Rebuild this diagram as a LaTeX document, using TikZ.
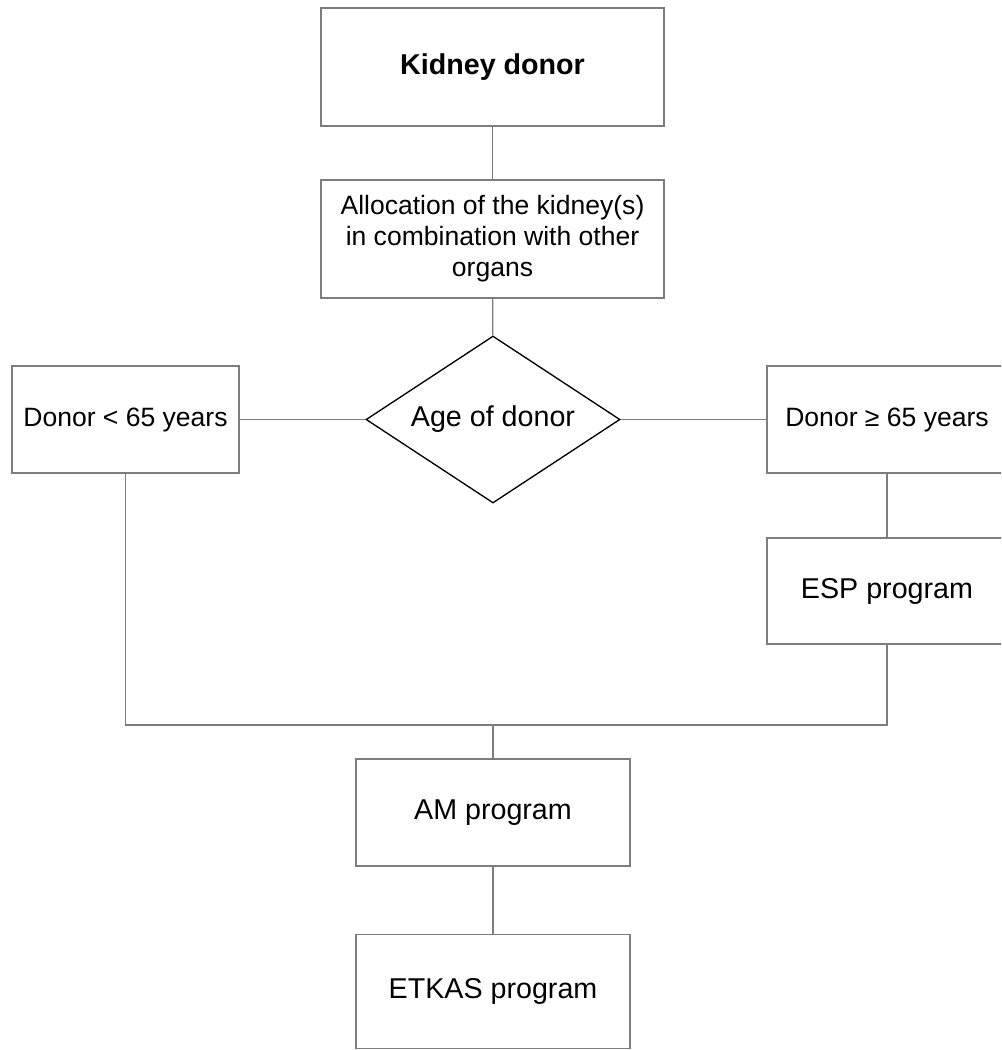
\documentclass[tikz,border=0pt]{standalone}
\usepackage{fontspec}
\setmainfont{Liberation Sans}
\usetikzlibrary{shapes.geometric}
\definecolor{linegray}{RGB}{125,125,125}
\tikzset{
  box/.style={draw=linegray, line width=1pt, rectangle, inner sep=0pt, align=center,
              font=\fontsize{21.5}{25}\selectfont, text=black},
  smallbox/.style={box, font=\fontsize{19.9}{23.25}\selectfont},
  decision/.style={draw=black, line width=1pt, diamond, inner sep=0pt, aspect=1.52,
              font=\fontsize{21.5}{25}\selectfont, text=black},
  conn/.style={draw=linegray, line width=1pt}
}
\begin{document}
\begin{tikzpicture}[x=0.75pt, y=-0.75pt]
\useasboundingbox (0,0) rectangle (1001,1050);
\clip (0,0) rectangle (1001,1050);
\fill[white] (0,0) rectangle (1001,1050);

\node[box, minimum width=257.25pt, minimum height=88.5pt, font=\bfseries\fontsize{21.5}{25}\selectfont] (kd) at (492.5,67) {Kidney donor};
\node[smallbox, minimum width=257.25pt, minimum height=88.5pt] (alloc) at (492.5,239)
  {Allocation of the kidney(s)\\ in combination with other\\ organs};
\node[decision, minimum width=190.5pt, minimum height=125.25pt] (age) at (493,419.5) {Age of donor};
\node[smallbox, minimum width=170.25pt, minimum height=80.25pt] (young) at (125.5,419.5) {Donor < 65 years};
\node[smallbox, minimum width=180pt, minimum height=80.25pt] (old) at (887,419.5) {Donor ≥ 65 years};
\node[box, minimum width=180pt, minimum height=79.5pt] (esp) at (887,591) {ESP program};
\node[box, minimum width=205.5pt, minimum height=80.25pt] (am) at (493,812.5) {AM program};
\node[box, minimum width=205.5pt, minimum height=85.5pt] (etkas) at (493,991.25) {ETKAS program};

\coordinate (jc) at (493,725);
\coordinate (jl) at (young.south |- jc);
\coordinate (jr) at (esp.south |- jc);

\draw[conn] (kd) -- (alloc);
\draw[conn] (alloc) -- (age);
\draw[conn] (age) -- (young);
\draw[conn] (age) -- (old);
\draw[conn] (old) -- (esp);
\draw[conn] (young.south) -- (jl) -- (jr) -- (esp.south);
\draw[conn] (jc) -- (am);
\draw[conn] (am) -- (etkas);
\end{tikzpicture}
\end{document}
